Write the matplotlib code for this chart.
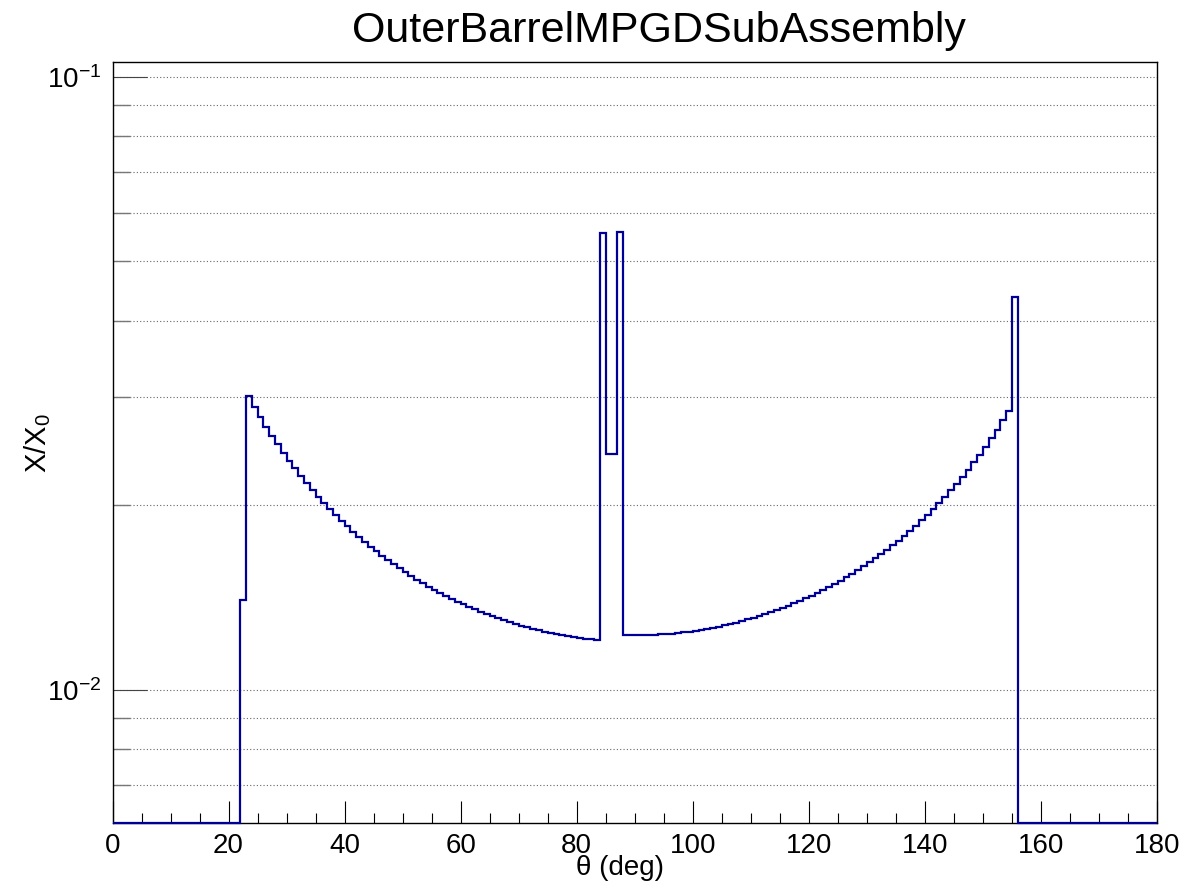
"""Material budget histogram: X/X0 versus polar angle for one sub-assembly"""
import matplotlib
matplotlib.use('Agg')
import matplotlib.pyplot as plt
import numpy as np
from matplotlib.ticker import LogLocator, MultipleLocator, NullFormatter

plt.rcParams['font.family'] = ['Liberation Sans', 'DejaVu Sans']
plt.rcParams['mathtext.fontset'] = 'custom'
plt.rcParams['mathtext.rm'] = 'Liberation Sans'
plt.rcParams['mathtext.it'] = 'Liberation Sans:italic'

# 1 degree bins, 0..180
theta_edges = np.arange(0, 181, 1)

# bins 0-21 and 156-179 are empty
left_wall = [0.01402]  # bin 22
left_arc = [  # bins 23-83
    0.03010, 0.02894, 0.02787, 0.02689, 0.02599, 0.02515, 0.02437, 0.02365,
    0.02297, 0.02233, 0.02174, 0.02119, 0.02066, 0.02017, 0.01971, 0.01928,
    0.01887, 0.01848, 0.01811, 0.01776, 0.01743, 0.01712, 0.01682, 0.01654,
    0.01628, 0.01602, 0.01578, 0.01555, 0.01533, 0.01512, 0.01493, 0.01474,
    0.01456, 0.01439, 0.01423, 0.01407, 0.01393, 0.01379, 0.01366, 0.01353,
    0.01341, 0.01330, 0.01319, 0.01308, 0.01299, 0.01290, 0.01281, 0.01273,
    0.01265, 0.01258, 0.01252, 0.01245, 0.01240, 0.01234, 0.01229, 0.01225,
    0.01220, 0.01217, 0.01213, 0.01210, 0.01205,
]
center_peaks = [0.0556, 0.02429, 0.02429, 0.0558]  # bins 84-87
right_arc = [  # bins 88-154
    0.01228, 0.01228, 0.01228, 0.01228, 0.01229, 0.01230, 0.01232, 0.01234,
    0.01236, 0.01239, 0.01242, 0.01245, 0.01249, 0.01253, 0.01258, 0.01263,
    0.01268, 0.01274, 0.01281, 0.01288, 0.01295, 0.01303, 0.01311, 0.01320,
    0.01329, 0.01339, 0.01350, 0.01361, 0.01372, 0.01384, 0.01397, 0.01411,
    0.01425, 0.01440, 0.01456, 0.01473, 0.01490, 0.01508, 0.01528, 0.01548,
    0.01569, 0.01591, 0.01615, 0.01640, 0.01666, 0.01693, 0.01722, 0.01752,
    0.01784, 0.01818, 0.01853, 0.01891, 0.01931, 0.01973, 0.02017, 0.02064,
    0.02115, 0.02168, 0.02225, 0.02286, 0.02350, 0.02420, 0.02494, 0.02574,
    0.02659, 0.02752, 0.02852,
]
right_wall = [0.0438]  # bin 155

title = 'OuterBarrelMPGDSubAssembly'
x_label = 'θ (deg)'
y_label = 'X/X$_0$'
y_range = (0.006062, 0.1058)

counts = np.array([0.0] * 22 + left_wall + left_arc + center_peaks
                  + right_arc + right_wall + [0.0] * 24)
# empty bins sit on the lower edge, as ROOT draws them on a log axis
plotted = np.where(counts > 0, counts, y_range[0])

W, H = 1201, 885
fig = plt.figure(figsize=(W / 100, H / 100), dpi=100)
ax = fig.add_axes([112.5 / W, 1 - 823.3 / H, (1157 - 112.5) / W, (823.3 - 61.7) / H])

ax.stairs(plotted, theta_edges, baseline=None, color='#000099', lw=1.6,
          clip_on=False, zorder=3)

ax.set_yscale('log')
ax.set_xlim(0, 180)
ax.set_ylim(*y_range)

ax.xaxis.set_major_locator(MultipleLocator(20))
ax.xaxis.set_minor_locator(MultipleLocator(5))
ax.yaxis.set_major_locator(LogLocator(base=10))
ax.yaxis.set_minor_locator(LogLocator(base=10, subs=np.arange(2, 10)))
ax.yaxis.set_minor_formatter(NullFormatter())

ax.tick_params(axis='x', which='major', direction='in', length=15.8, width=0.8,
               labelsize=20, pad=7)
ax.tick_params(axis='x', which='minor', direction='in', length=7.2, width=0.8)
ax.tick_params(axis='y', which='major', direction='in', length=24.5, width=0.8,
               labelsize=20, pad=8, color='#444444')
ax.tick_params(axis='y', which='minor', direction='in', length=12.2, width=1.0,
               color='#777777')

ax.grid(True, axis='y', which='both', color='#666666', ls=(0, (1, 2)), lw=0.8)
ax.set_axisbelow(True)
for spine in ax.spines.values():
    spine.set_linewidth(1.0)
    spine.set_color('black')

fig.text(659 / W, 1 - 31 / H, title, ha='center', va='center', fontsize=31)
fig.text(620 / W, 1 - 868 / H, x_label, ha='center', va='center', fontsize=20)
fig.text(38 / W, 1 - 443 / H, y_label, ha='center', va='center', fontsize=21,
         rotation=90)

fig.savefig('out.png', dpi=100)
plt.close('all')
